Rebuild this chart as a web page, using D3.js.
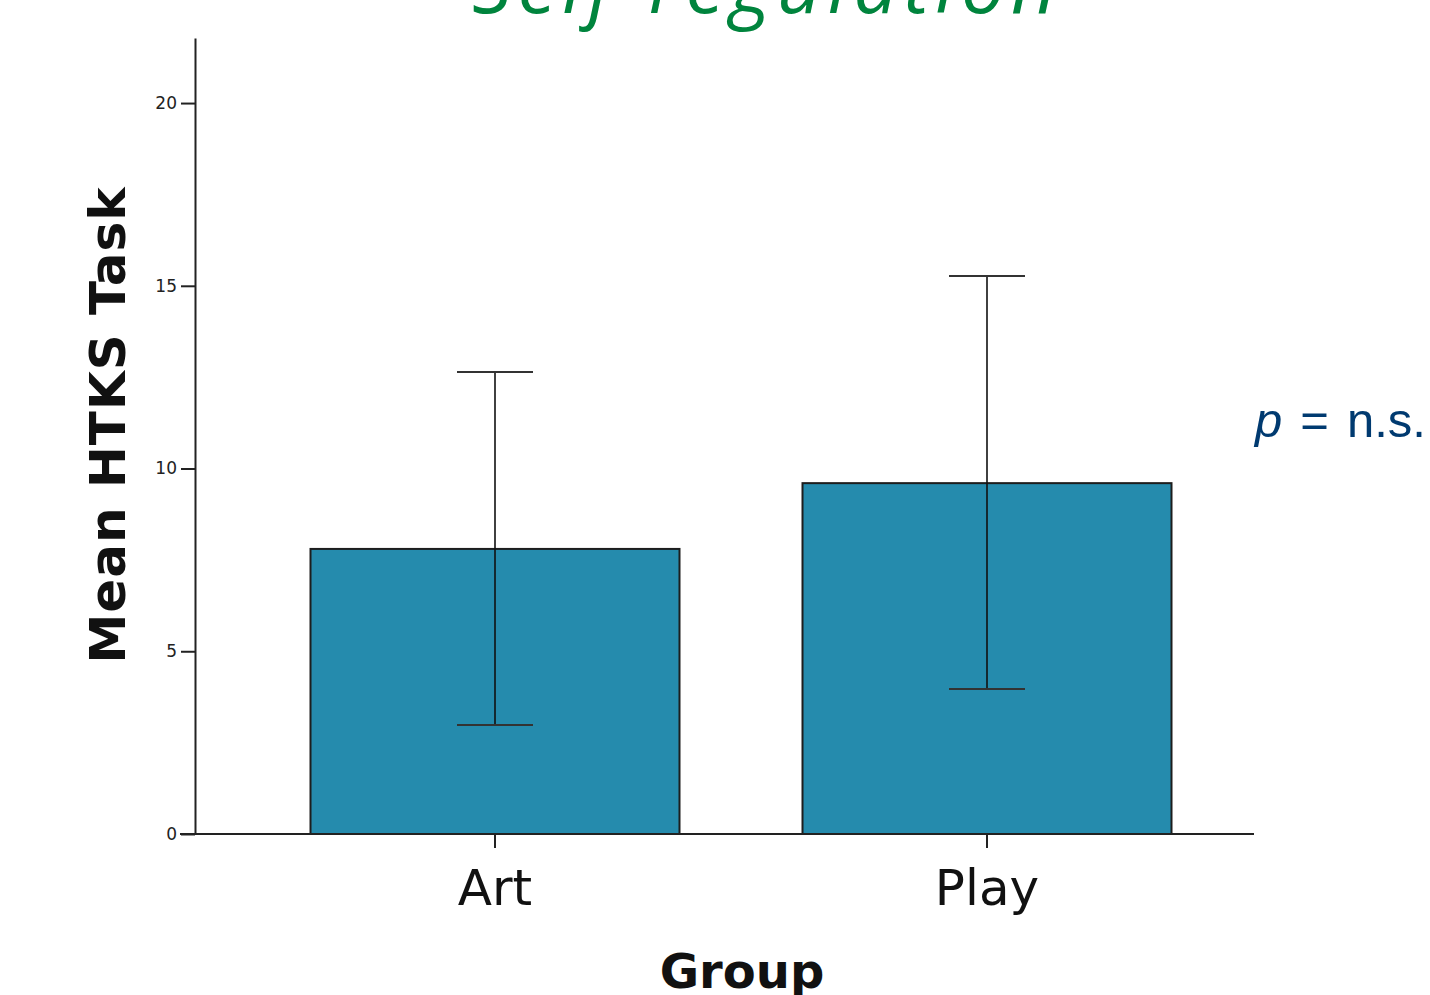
<!DOCTYPE html>
<html>
<head>
<meta charset="utf-8">
<script src="https://cdn.jsdelivr.net/npm/d3@7"></script>
<style>
  body { margin: 0; background: #fff; }
  svg { display: block; }
</style>
</head>
<body>
<div id="main-chart"></div>
<script>
const groups = ["Art", "Play"];
const means = [7.8, 9.6];
const upper = [12.64, 15.27];
const lower = [2.98, 3.97];
const yTicks = [0, 5, 10, 15, 20];

const width = 1430, height = 995;

const svg = d3.select("#main-chart")
    .append("svg")
    .attr("width", width)
    .attr("height", height);

const y = d3.scaleLinear().domain([0, 21.78]).range([834, 38]);
const x = d3.scaleBand().domain(groups).range([249, 1233])
    .paddingInner(0.25).paddingOuter(0.125);

const data = groups.map((g, i) => ({ group: g, mean: means[i], hi: upper[i], lo: lower[i] }));

// title, mostly cut off by the top edge
svg.append("text")
    .attr("x", 767).attr("y", 13)
    .attr("text-anchor", "middle")
    .style("font-family", "'Open Sans', sans-serif")
    .style("font-style", "italic")
    .style("font-size", "78px")
    .style("letter-spacing", "6px")
    .attr("fill", "#00843d")
    .text("Self-regulation");

// bars
svg.selectAll(".bar").data(data).enter()
    .append("rect")
    .attr("class", "bar")
    .attr("x", d => x(d.group))
    .attr("y", d => y(d.mean))
    .attr("width", x.bandwidth())
    .attr("height", d => y(0) - y(d.mean))
    .attr("fill", "#258bad")
    .attr("stroke", "#1d1d1d")
    .attr("stroke-width", 2);

// error bars
const cap = 38;
const eb = svg.selectAll(".err").data(data).enter().append("g").attr("class", "err");
eb.append("line")
    .attr("x1", d => x(d.group) + x.bandwidth() / 2)
    .attr("x2", d => x(d.group) + x.bandwidth() / 2)
    .attr("y1", d => y(d.hi)).attr("y2", d => y(d.lo))
    .attr("stroke", "#111").attr("stroke-width", 1.6);
eb.append("line")
    .attr("x1", d => x(d.group) + x.bandwidth() / 2 - cap)
    .attr("x2", d => x(d.group) + x.bandwidth() / 2 + cap)
    .attr("y1", d => y(d.hi)).attr("y2", d => y(d.hi))
    .attr("stroke", "#333").attr("stroke-width", 2);
eb.append("line")
    .attr("x1", d => x(d.group) + x.bandwidth() / 2 - cap)
    .attr("x2", d => x(d.group) + x.bandwidth() / 2 + cap)
    .attr("y1", d => y(d.lo)).attr("y2", d => y(d.lo))
    .attr("stroke", "#333").attr("stroke-width", 2);

// y axis
const yAxis = svg.append("g")
    .attr("transform", "translate(195,0)")
    .call(d3.axisLeft(y).tickValues(yTicks).tickSize(14).tickSizeOuter(0).tickPadding(4));
yAxis.select(".domain").attr("stroke", "#222").attr("stroke-width", 2);
yAxis.selectAll(".tick line").attr("stroke", "#222").attr("stroke-width", 2);
yAxis.selectAll(".tick text")
    .style("font-family", "'DejaVu Sans', sans-serif")
    .style("font-size", "17px")
    .attr("fill", "#222");

// x axis
svg.append("line")
    .attr("x1", 180).attr("x2", 1254)
    .attr("y1", y(0)).attr("y2", y(0))
    .attr("stroke", "#222").attr("stroke-width", 2);
const xAxis = svg.append("g")
    .attr("transform", `translate(0,${y(0)})`)
    .call(d3.axisBottom(x).tickSize(14).tickSizeOuter(0));
xAxis.select(".domain").remove();
xAxis.selectAll(".tick line").attr("stroke", "#222").attr("stroke-width", 2);
xAxis.selectAll(".tick text")
    .attr("y", 71).attr("dy", 0)
    .style("font-family", "'DejaVu Sans', sans-serif")
    .style("font-size", "50px")
    .attr("fill", "#111");

// axis titles
svg.append("text")
    .attr("transform", "translate(125,425) rotate(-90)")
    .attr("text-anchor", "middle")
    .style("font-family", "'DejaVu Sans', sans-serif")
    .style("font-weight", "bold")
    .style("font-size", "50px")
    .style("letter-spacing", "1px")
    .attr("fill", "#111")
    .text("Mean HTKS Task");

svg.append("text")
    .attr("x", 742).attr("y", 988)
    .attr("text-anchor", "middle")
    .style("font-family", "'DejaVu Sans', sans-serif")
    .style("font-weight", "bold")
    .style("font-size", "48px")
    .attr("fill", "#111")
    .text("Group");

// significance note
const note = svg.append("text")
    .attr("x", 1255).attr("y", 437)
    .style("font-family", "'Liberation Sans', Arial, sans-serif")
    .style("font-size", "49px")
    .attr("fill", "#003a70");
note.append("tspan").style("font-style", "italic").text("p");
note.append("tspan").attr("dx", 18).text("=");
note.append("tspan").attr("dx", 18).text("n.s.");
</script>
</body>
</html>
